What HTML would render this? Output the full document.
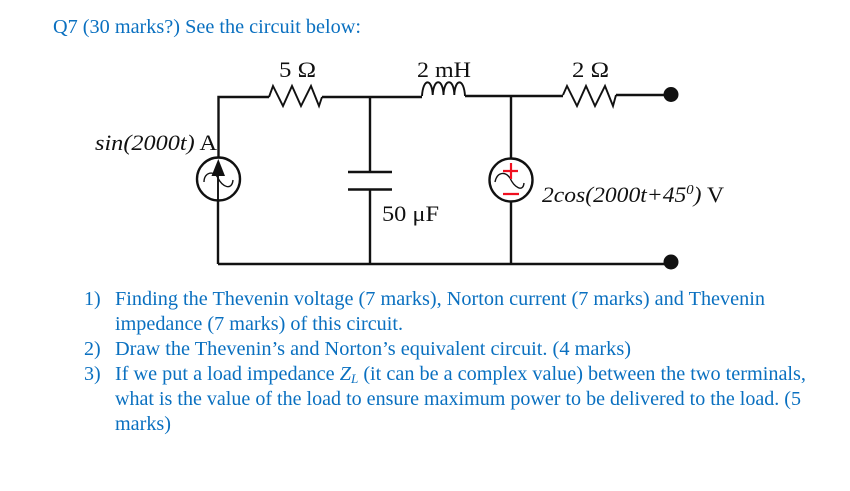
<!DOCTYPE html>
<html><head><meta charset="utf-8"><style>
html,body{margin:0;padding:0;background:#fff}
svg{display:block}
text{font-family:"Liberation Serif",serif}
.b{fill:#0a70c0;font-size:20px}
.k{fill:#111;font-size:22.5px}
.w{fill:none;stroke:#111;stroke-width:2.4}
.r{fill:none;stroke:#111;stroke-width:1.9}
.t{fill:none;stroke:#111;stroke-width:1.4}
</style></head><body>
<svg width="850" height="491" viewBox="0 0 850 491" xmlns="http://www.w3.org/2000/svg">
<rect width="850" height="491" fill="#fff"/>
<text class="b" x="53" y="33" textLength="308" lengthAdjust="spacingAndGlyphs">Q7 (30 marks?) See the circuit below:</text>

<path class="w" d="M218.500 157V97H269M322 97H422M465 96H563M616 95H671"/>
<path class="r" d="M269 97L273 86L283 106L292 86L301 106L311 86L319 106L322 97"/>
<path class="r" d="M563 95L567 86L577 106L586 86L595 106L605 86L613 106L616 95"/>
<path class="r" d="M422 96C423 78 432 78 432.700 95C433.500 78 443 78 443.500 95C444 78 454 78 454.300 95C455 78 464 78 465 96"/>
<circle cx="671" cy="94.500" r="7.500" fill="#111"/>
<circle cx="671" cy="262" r="7.500" fill="#111"/>

<path class="w" d="M370 97V172M348 172H392M348 189.500H392M370 189.500V264M218 264H671M218 201V264M511 96V158M511 202V264"/>

<circle class="w" cx="218.500" cy="179" r="21.500" stroke-width="2.800"/>
<path class="r" d="M218 202V172"/>
<path d="M218.300 159L211.500 176H225Z" fill="#111"/>
<path class="t" d="M204 182C204 172 214 170 218 178C222 187 232 191 233 180"/>

<circle class="w" cx="511" cy="180" r="21.500" stroke-width="2.800"/>
<path class="t" d="M495 182C497 172 505 171 510 178C514 187 523 193 524 183"/>
<path d="M503 171H518M511 163V179M503 194H519" fill="none" stroke="#f01020" stroke-width="2.200"/>

<text class="k" x="279" y="77" textLength="37" lengthAdjust="spacingAndGlyphs">5 Ω</text>
<text class="k" x="417" y="77" textLength="54" lengthAdjust="spacingAndGlyphs">2 mH</text>
<text class="k" x="572" y="77" textLength="37" lengthAdjust="spacingAndGlyphs">2 Ω</text>
<text class="k" x="95" y="150" textLength="122" lengthAdjust="spacingAndGlyphs"><tspan font-style="italic">sin(2000t)</tspan> A</text>
<text class="k" x="382" y="221" textLength="57" lengthAdjust="spacingAndGlyphs">50 μF</text>
<text class="k" x="542" y="202" textLength="182" lengthAdjust="spacingAndGlyphs"><tspan font-style="italic">2cos(2000t+45</tspan><tspan font-style="italic" font-size="14" dy="-8">0</tspan><tspan font-style="italic" dy="8">)</tspan> V</text>

<text class="b" x="84" y="305">1)</text>
<text class="b" x="115" y="305" textLength="650" lengthAdjust="spacingAndGlyphs">Finding the Thevenin voltage (7 marks), Norton current (7 marks) and Thevenin</text>
<text class="b" x="115" y="330" textLength="288" lengthAdjust="spacingAndGlyphs">impedance (7 marks) of this circuit.</text>
<text class="b" x="84" y="355">2)</text>
<text class="b" x="115" y="355" textLength="516" lengthAdjust="spacingAndGlyphs">Draw the Thevenin’s and Norton’s equivalent circuit. (4 marks)</text>
<text class="b" x="84" y="380">3)</text>
<text class="b" x="115" y="380" textLength="691" lengthAdjust="spacingAndGlyphs">If we put a load impedance <tspan font-style="italic">Z</tspan><tspan font-style="italic" font-size="13" dy="3">L</tspan><tspan dy="-3"> (it can be a complex value) between the two terminals,</tspan></text>
<text class="b" x="115" y="405" textLength="686" lengthAdjust="spacingAndGlyphs">what is the value of the load to ensure maximum power to be delivered to the load. (5</text>
<text class="b" x="115" y="430" textLength="56" lengthAdjust="spacingAndGlyphs">marks)</text>
</svg>
</body></html>
